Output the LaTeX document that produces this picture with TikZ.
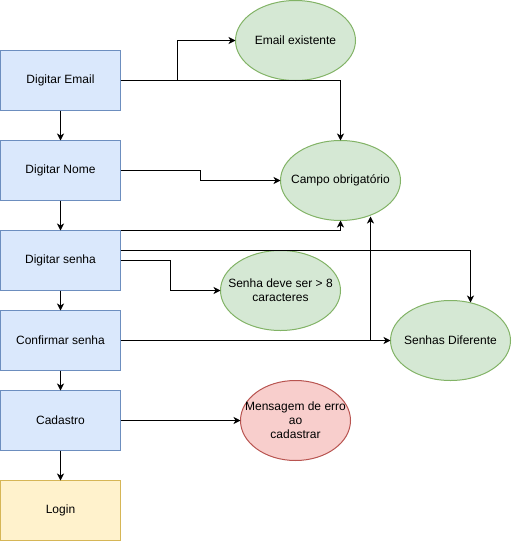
\documentclass[tikz,border=0pt]{standalone}
\usepackage{fontspec}
\setmainfont{Liberation Sans}
\usetikzlibrary{arrows.meta,shapes.geometric}

\definecolor{azulfill}{HTML}{DAE8FC}\definecolor{azuldraw}{HTML}{6C8EBF}
\definecolor{verdefill}{HTML}{D5E8D4}\definecolor{verdedraw}{HTML}{82B366}
\definecolor{vermfill}{HTML}{F8CECC}\definecolor{vermdraw}{HTML}{B85450}
\definecolor{amarfill}{HTML}{FFF2CC}\definecolor{amardraw}{HTML}{D6B656}

\tikzset{
  passo/.style={draw=azuldraw, fill=azulfill, line width=1pt, minimum width=120pt, minimum height=60pt, inner sep=0pt, outer sep=0pt, font=\fontsize{12}{14}\selectfont},
  aviso/.style={ellipse, draw=verdedraw, fill=verdefill, line width=1pt, minimum width=120pt, minimum height=80pt, inner xsep=-20pt, inner ysep=0pt, outer sep=0pt, align=center, font=\fontsize{12}{14}\selectfont},
  seta/.style={-{Stealth[length=7pt,width=7pt,inset=2pt]}, line width=1pt}
}

\begin{document}
\begin{tikzpicture}[x=1pt,y=-1pt]
    \useasboundingbox (-0.5,-0.5) rectangle (511.5,540.5);

    % passos do cadastro
    \node[passo] (email) at (60,80) {Digitar Email};
    \node[passo] (nome) at (60,170) {Digitar Nome};
    \node[passo] (senha) at (60,260) {Digitar senha};
    \node[passo] (confirmar) at (60,340) {Confirmar senha};
    \node[passo] (cadastro) at (60,420) {Cadastro};
    \node[passo, draw=amardraw, fill=amarfill] (login) at (60,510) {Login};

    % mensagens
    \node[aviso] (existente) at (295,40) {Email existente};
    \node[aviso] (campo) at (340,180) {Campo obrigatório};
    \node[aviso] (senhaoito) at (280,290) {Senha deve ser > 8\\caracteres};
    \node[aviso] (diferente) at (450,340) {Senhas Diferente};
    \node[aviso, draw=vermdraw, fill=vermfill, minimum width=110pt] (erro) at (295,420) {Mensagem de erro\\ao\\cadastrar};

    \draw[seta] (email) -- (nome);  \draw[seta] (nome) -- (senha);
    \draw[seta] (senha) -- (confirmar);  \draw[seta] (confirmar) -- (cadastro);
    \draw[seta] (cadastro) -- (login);

    \draw[seta] (email.east) -- ++(57,0) |- (existente.west);
    \draw[seta] (email.east) -| (campo.north);
    \draw[seta] (nome.east) -- ++(80,0) |- (campo.west);
    \draw[seta] (senha.north east) -| (campo.south);
    \draw[seta] ([yshift=10pt]senha.east) -| ([xshift=20pt,yshift=-2pt]diferente.north);
    \draw[seta] (senha.east) -- ++(50,0) |- (senhaoito.west);
    \draw[seta] (confirmar.east) -- (diferente.west);

    \coordinate (juncao) at (370,340);
    \draw[seta] (juncao) -- ([yshift=4pt]juncao |- campo.south);

    \draw[seta] (cadastro) -- (erro);
\end{tikzpicture}
\end{document}
